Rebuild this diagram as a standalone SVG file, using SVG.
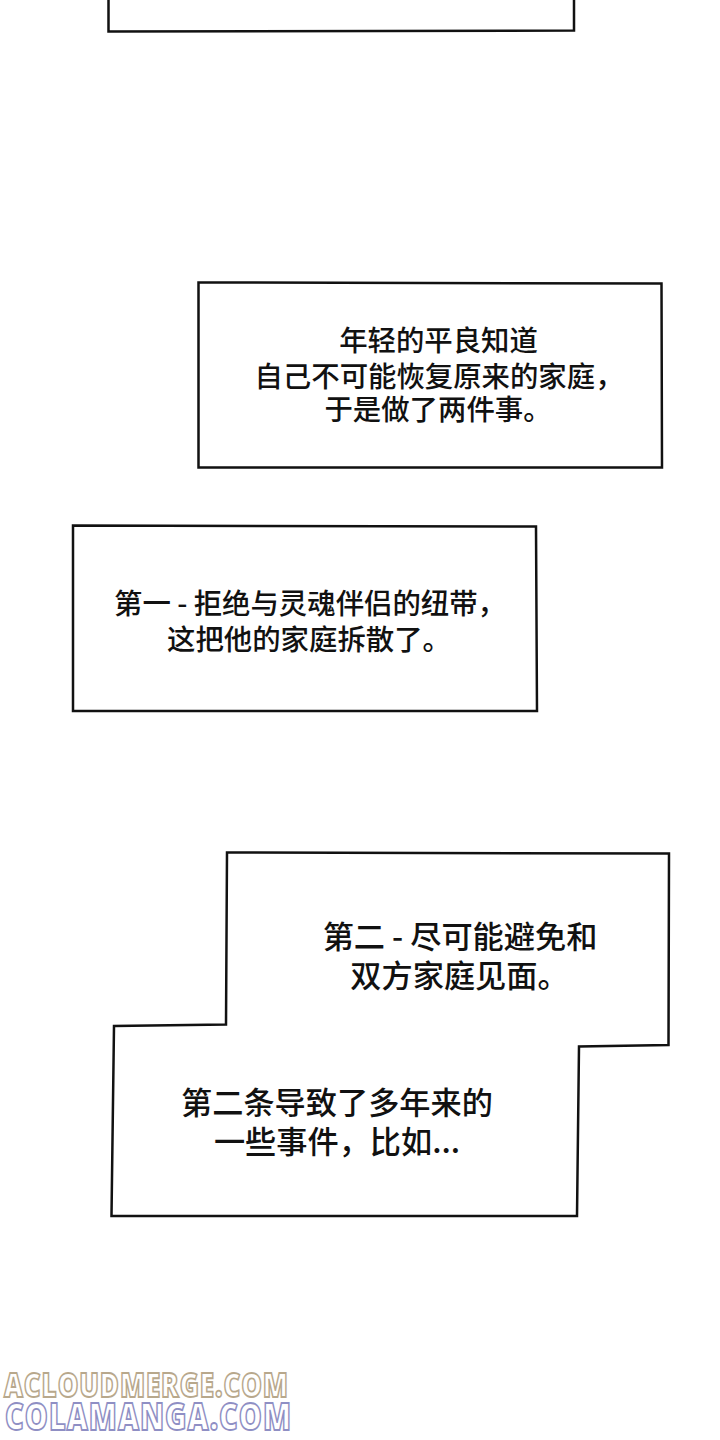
<svg xmlns="http://www.w3.org/2000/svg" width="720" height="1440" viewBox="0 0 720 1440">
<style>
.box{fill:#fff;stroke:#111;stroke-width:2.5;stroke-linejoin:miter}
.t{font-family:"Noto Sans CJK SC","Liberation Sans",sans-serif;font-size:28.4px;font-weight:500;fill:#111;text-anchor:middle}
.b{font-size:31.2px}
.wm{font-family:"Open Sans","Liberation Sans",sans-serif;font-weight:800;font-size:26px;fill:#fff;stroke-width:1.4}
</style>
<rect width="720" height="1440" fill="#fff"/>
<g id="node-top"><path class="box" d="M108.500 -5L108.500 31.500L574 30.500L574 -5"/></g>
<g id="node-1"><path class="box" d="M198.500 282.500L661.500 283.500L662 467.500L198.500 467.500Z"/>
<text class="t" x="438.500" y="351">年轻的平良知道</text>
<text class="t" x="439" y="387">自己不可能恢复原来的家庭，</text>
<text class="t" x="438" y="420">于是做了两件事。</text></g>
<g id="node-2"><path class="box" d="M73 525.500L536 526.500L537 711L73 711Z"/>
<text class="t" x="310" y="614">第一 - 拒绝与灵魂伴侣的纽带，</text>
<text class="t" x="309" y="650">这把他的家庭拆散了。</text></g>
<g id="node-3"><path class="box" d="M227 852.500L669 853.500L668.500 1045L579 1046.500L577 1216L111.500 1216L114 1026L226 1024.500Z"/>
<text class="t b" x="460" y="948">第二 - 尽可能避免和</text>
<text class="t b" x="459.500" y="987">双方家庭见面。</text>
<text class="t b" x="337" y="1114">第二条导致了多年来的</text>
<text class="t b" x="337" y="1153">一些事件，比如...</text></g>
<g id="watermark">
<text class="wm" transform="translate(4 1397) scale(1 1.3)" stroke="#b8a88c" textLength="284" lengthAdjust="spacing">ACLOUDMERGE.COM</text>
<text class="wm" transform="translate(5 1430) scale(1 1.3)" style="font-size:29px" stroke="#8f8fc4" textLength="286" lengthAdjust="spacing">COLAMANGA.COM</text>
</g>
</svg>
